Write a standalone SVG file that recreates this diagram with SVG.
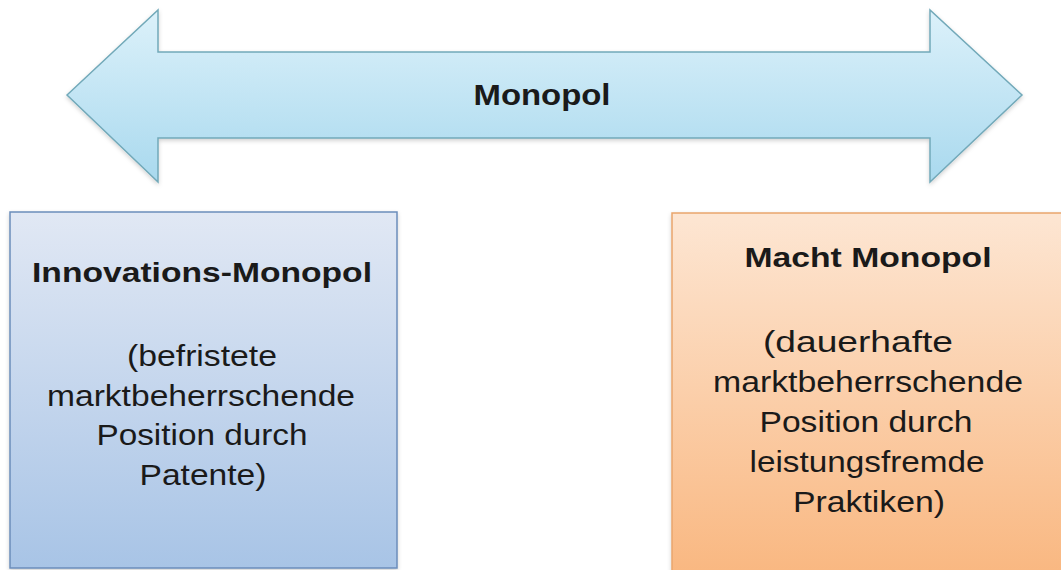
<svg xmlns="http://www.w3.org/2000/svg" width="1061" height="570" viewBox="0 0 1061 570">
  <defs>
    <linearGradient id="gArrow" x1="0" y1="0" x2="0" y2="1">
      <stop offset="0" stop-color="#dcf1fa"/>
      <stop offset="1" stop-color="#a9d9ee"/>
    </linearGradient>
    <linearGradient id="gBlue" x1="0" y1="0" x2="0" y2="1">
      <stop offset="0" stop-color="#e1e8f4"/>
      <stop offset="1" stop-color="#a8c4e6"/>
    </linearGradient>
    <linearGradient id="gOrange" x1="0" y1="0" x2="0" y2="1">
      <stop offset="0" stop-color="#fde6d3"/>
      <stop offset="1" stop-color="#f9b780"/>
    </linearGradient>
    <filter id="shadow" x="-5%" y="-5%" width="110%" height="115%">
      <feDropShadow dx="0" dy="2" stdDeviation="2" flood-color="#000" flood-opacity="0.18"/>
    </filter>
  </defs>
  <style>
    .title { font-family: "Liberation Sans", Arial, sans-serif; font-weight: bold; fill: #1a1a1a; text-anchor: middle; }
    .body { font-family: "Liberation Sans", Arial, sans-serif; font-size: 30px; fill: #1a1a1a; text-anchor: middle; }
  </style>
  <rect width="1061" height="570" fill="#ffffff"/>

  <g id="monopol-arrow">
    <polygon points="67,95 158,10 158,52 930,52 930,10 1022,95 930,182 930,138 158,138 158,182" fill="url(#gArrow)" stroke="#72a9b9" stroke-width="1.5" filter="url(#shadow)"/>
    <text class="title" x="542" y="105" font-size="30" textLength="137" lengthAdjust="spacingAndGlyphs">Monopol</text>
  </g>

  <g id="innovations-monopol">
    <rect x="10" y="212" width="387" height="356" fill="url(#gBlue)" stroke="#6b8dbb" stroke-width="1.5" filter="url(#shadow)"/>
    <text class="title" x="202" y="282" font-size="28" textLength="340" lengthAdjust="spacingAndGlyphs">Innovations-Monopol</text>
    <text class="body" x="202" y="366" textLength="150" lengthAdjust="spacingAndGlyphs">(befristete</text>
    <text class="body" x="201" y="406" textLength="308" lengthAdjust="spacingAndGlyphs">marktbeherrschende</text>
    <text class="body" x="202" y="445" textLength="211" lengthAdjust="spacingAndGlyphs">Position durch</text>
    <text class="body" x="203" y="485" textLength="127" lengthAdjust="spacingAndGlyphs">Patente)</text>
  </g>

  <g id="macht-monopol">
    <rect x="672" y="213" width="395" height="365" fill="url(#gOrange)" stroke="#e9a56c" stroke-width="1.5" filter="url(#shadow)"/>
    <text class="title" x="868" y="267" font-size="28" textLength="247" lengthAdjust="spacingAndGlyphs">Macht Monopol</text>
    <text class="body" x="858" y="352" textLength="190" lengthAdjust="spacingAndGlyphs">(dauerhafte</text>
    <text class="body" x="868" y="392" textLength="310" lengthAdjust="spacingAndGlyphs">marktbeherrschende</text>
    <text class="body" x="866" y="432" textLength="213" lengthAdjust="spacingAndGlyphs">Position durch</text>
    <text class="body" x="867" y="472" textLength="235" lengthAdjust="spacingAndGlyphs">leistungsfremde</text>
    <text class="body" x="869" y="512" textLength="152" lengthAdjust="spacingAndGlyphs">Praktiken)</text>
  </g>

  <g id="connectors"/>
</svg>
